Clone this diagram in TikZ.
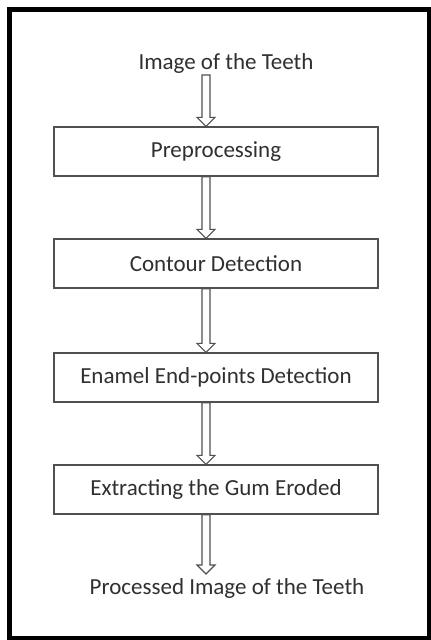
\documentclass[tikz,border=0pt]{standalone}
\usepackage{fontspec}
\setmainfont{Carlito}
\usetikzlibrary{calc}
\definecolor{txt}{HTML}{303030}
\definecolor{ln}{HTML}{505050}
\tikzset{
  stepbox/.style={draw=ln, line width=1.4pt, minimum width=324pt, minimum height=49pt, inner sep=0pt, text=txt, font=\fontsize{23}{27}\selectfont},
  plaintext/.style={inner sep=0pt, text=txt, font=\fontsize{23}{27}\selectfont},
  harrow/.style={draw=ln, line width=1.1pt, line join=miter},
  frame/.style={draw=black, line width=4.5pt}
}
\newcommand{\hollowarrow}[2]{%
  \draw[harrow] ($(#1)+(-4,0)$) -- ($(#2)+(-4,-9)$) -- ($(#2)+(-9,-9)$) -- (#2) -- ($(#2)+(9,-9)$) -- ($(#2)+(4,-9)$) -- ($(#1)+(4,0)$) -- cycle;}
\begin{document}
\begin{tikzpicture}[x=1pt, y=-1pt]
\useasboundingbox (0,0) rectangle (431,640);
\fill[white] (0,0) rectangle (431,640);
\draw[frame] (9.5,9.5) rectangle (429.5,638.5);

\node[plaintext] (in) at (226,63) {Image of the Teeth};
\node[stepbox] (p1) at (216,151.5) {Preprocessing};
\node[stepbox] (p2) at (216,263.5) {Contour Detection};
\node[stepbox] (p3) at (216,377.5) {Enamel End-points Detection};
\node[stepbox] (p4) at (216,489.5) {Extracting the Gum Eroded};
\node[plaintext] (out) at (227,588) {Processed Image of the Teeth};

\coordinate (s1) at (206,75);
\coordinate (e1) at (p1.north -| s1);
\coordinate (s2) at (p1.south -| s1);
\coordinate (e2) at (p2.north -| s1);
\coordinate (s3) at (p2.south -| s1);
\coordinate (e3) at (p3.north -| s1);
\coordinate (s4) at (p3.south -| s1);
\coordinate (e4) at (p4.north -| s1);
\coordinate (s5) at (p4.south -| s1);
\coordinate (e5) at (206,574);

\hollowarrow{s1}{e1}
\hollowarrow{s2}{e2}
\hollowarrow{s3}{e3}
\hollowarrow{s4}{e4}
\hollowarrow{s5}{e5}
\end{tikzpicture}
\end{document}
